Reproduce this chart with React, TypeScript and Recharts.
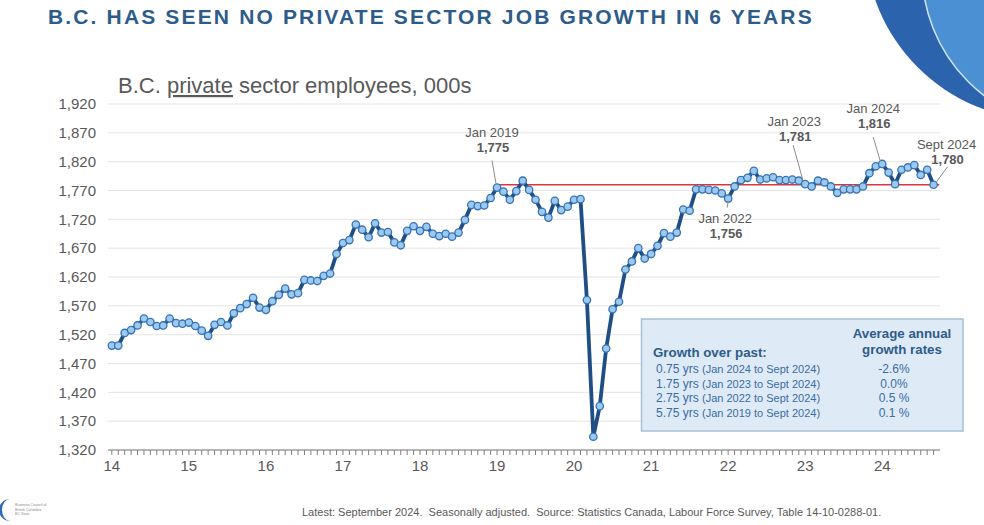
import {
  LineChart,
  Line,
  XAxis,
  YAxis,
  CartesianGrid,
  ReferenceLine,
  ReferenceDot,
} from 'recharts';

// B.C. private sector employees (000s), monthly, Jan 2014 - Sept 2024, seasonally adjusted
const EMPLOYEES = [
  // 2014
  1501, 1501, 1523, 1528, 1536, 1548, 1542, 1535, 1536, 1548, 1540, 1539,
  // 2015
  1541, 1535, 1527, 1518, 1537, 1542, 1536, 1557, 1566, 1573, 1584, 1567,
  // 2016
  1563, 1578, 1589, 1600, 1590, 1592, 1615, 1614, 1613, 1622, 1626, 1660,
  // 2017
  1679, 1684, 1711, 1702, 1689, 1713, 1697, 1698, 1680, 1675, 1700, 1708,
  // 2018
  1700, 1707, 1695, 1691, 1695, 1690, 1697, 1719, 1745, 1743, 1744, 1757,
  // 2019
  1775, 1768, 1754, 1769, 1787, 1771, 1754, 1733, 1723, 1752, 1736, 1742,
  // 2020
  1754, 1755, 1580, 1343, 1396, 1496, 1564, 1577, 1633, 1647, 1670, 1652,
  // 2021
  1660, 1674, 1696, 1690, 1697, 1737, 1735, 1772, 1772, 1771, 1770, 1765,
  // 2022
  1756, 1777, 1788, 1792, 1804, 1789, 1791, 1793, 1788, 1788, 1789, 1787,
  // 2023
  1781, 1777, 1787, 1784, 1777, 1766, 1772, 1772, 1772, 1777, 1800, 1812,
  // 2024
  1816, 1801, 1781, 1806, 1810, 1814, 1797, 1806, 1780,
];

const YEAR_LABELS = ['14', '15', '16', '17', '18', '19', '20', '21', '22', '23', '24'];
const Y_TICKS = [1320, 1370, 1420, 1470, 1520, 1570, 1620, 1670, 1720, 1770, 1820, 1870, 1920];

// flat line from Jan 2019 to the latest month
const NO_GROWTH_LEVEL = 1780;
const NO_GROWTH_FROM = 60;

const CALLOUT_MONTHS = [60, 96, 108, 120, 128];
const CALLOUT_DATES = ['Jan 2019', 'Jan 2022', 'Jan 2023', 'Jan 2024', 'Sept 2024'];

const GROWTH_PERIODS = ['0.75 yrs', '1.75 yrs', '2.75 yrs', '5.75 yrs'];
const GROWTH_RANGES = [
  '(Jan 2024 to Sept 2024)',
  '(Jan 2023 to Sept 2024)',
  '(Jan 2022 to Sept 2024)',
  '(Jan 2019 to Sept 2024)',
];
const GROWTH_RATES = ['-2.6%', '0.0%', '0.5 %', '0.1 %'];

const data = EMPLOYEES.map((v, m) => ({ m, v }));
const monthTicks = EMPLOYEES.map((_, m) => m);

// text/leader placement for each callout, relative to its point
const CALLOUT_LAYOUT = [
  { tx: -5, ty: -55, l1: [-5, -27], l2: [-1, -4] },
  { tx: -3, ty: 20, l1: [0, 3], l2: [-1, 9] },
  { tx: -11, ty: -63, l1: [-12, -39], l2: [-2, -3] },
  { tx: -9, ty: -55, l1: [-9, -27], l2: [-2, -3] },
  { tx: 13, ty: -40, l1: [14, -18], l2: [3, -3] },
];

const FONT = '"Liberation Sans", Arial, sans-serif';
const GREY = '#595959';
const NAVY = '#2E5C8A';

const fmt = (n: number) => n.toLocaleString('en-US');

function Callout(props: any, i: number) {
  const { cx, cy } = props;
  const lay = CALLOUT_LAYOUT[i];
  const value = EMPLOYEES[CALLOUT_MONTHS[i]];
  return (
    <g>
      <line
        x1={cx + lay.l1[0]}
        y1={cy + lay.l1[1]}
        x2={cx + lay.l2[0]}
        y2={cy + lay.l2[1]}
        stroke="#8c8c8c"
        strokeWidth={1}
      />
      <text x={cx + lay.tx} y={cy + lay.ty + 4.5} textAnchor="middle" fontSize={13} fill={GREY} fontFamily={FONT}>
        {CALLOUT_DATES[i]}
      </text>
      <text
        x={cx + lay.tx + 1}
        y={cy + lay.ty + 19.5}
        textAnchor="middle"
        fontSize={13}
        fontWeight="bold"
        fill={GREY}
        fontFamily={FONT}
      >
        {fmt(value)}
      </text>
    </g>
  );
}

export default function App() {
  return (
    <div style={{ position: 'absolute', left: 0, top: 0, width: 984, height: 525, background: '#fff', overflow: 'hidden' }}>
      <LineChart
        width={984}
        height={525}
        data={data}
        margin={{ top: 104, right: 44, bottom: 45, left: 48 }}
        style={{ fontFamily: FONT }}
      >
        <CartesianGrid vertical={false} stroke="#e4e4e4" strokeWidth={1} />
        <XAxis
          dataKey="m"
          type="number"
          height={30}
          domain={[-0.6, 129]}
          ticks={monthTicks}
          interval={0}
          tickFormatter={(m: number) => (m % 12 === 0 ? YEAR_LABELS[m / 12] : '')}
          tick={{ fill: GREY, fontSize: 15 }}
          tickSize={5}
          tickMargin={5}
          stroke="#7f7f7f"
          axisLine={{ stroke: '#7f7f7f' }}
          tickLine={{ stroke: '#7f7f7f' }}
        />
        <YAxis
          width={60}
          domain={[1320, 1920]}
          ticks={Y_TICKS}
          interval={0}
          tickFormatter={fmt}
          tick={{ fill: GREY, fontSize: 15 }}
          axisLine={false}
          tickLine={false}
          tickSize={0}
          tickMargin={12}
        />
        <ReferenceLine
          segment={[
            { x: NO_GROWTH_FROM, y: NO_GROWTH_LEVEL },
            { x: 128.9, y: NO_GROWTH_LEVEL },
          ]}
          stroke="#d9363e"
          strokeWidth={1.4}
        />
        <Line
          dataKey="v"
          type="linear"
          stroke="#1f4e85"
          strokeWidth={3.8}
          dot={{ r: 3.7, fill: '#9ccaef', stroke: '#3673b5', strokeWidth: 1.3 }}
          isAnimationActive={false}
        />
        {CALLOUT_MONTHS.map((m, i) => (
          <ReferenceDot key={m} x={m} y={EMPLOYEES[m]} r={1} shape={(p: any) => Callout(p, i)} />
        ))}
      </LineChart>

      <svg width={984} height={525} style={{ position: 'absolute', left: 0, top: 0, pointerEvents: 'none' }}>
        {/* corner swoosh */}
        <circle cx={1045} cy={-60} r={180} fill="#2c63ad" />
        <circle cx={1080} cy={-30} r={158} fill="#4a90d2" />
        <circle cx={1080} cy={-30} r={158} fill="none" stroke="#cfe6f7" strokeWidth={1.5} />

        <text x={48} y={24} fontSize={21} fontWeight="bold" letterSpacing={2.15} fill={NAVY} fontFamily={FONT}>
          B.C. HAS SEEN NO PRIVATE SECTOR JOB GROWTH IN 6 YEARS
        </text>
        <text x={118} y={93} fontSize={22} fill={GREY} fontFamily={FONT}>
          B.C. <tspan style={{ textDecoration: 'underline' }}>private</tspan> sector employees, 000s
        </text>

        {/* growth summary table */}
        <rect x={641.5} y={319} width={321.5} height={112} fill="#deebf6" stroke="#a7c0d3" strokeWidth={1.5} />
        <text x={902} y={338} textAnchor="middle" fontSize={13.3} fontWeight="bold" fill={NAVY} fontFamily={FONT}>
          Average annual
        </text>
        <text x={902} y={354} textAnchor="middle" fontSize={13.3} fontWeight="bold" fill={NAVY} fontFamily={FONT}>
          growth rates
        </text>
        <text x={653} y={357} fontSize={13.3} fontWeight="bold" fill={NAVY} fontFamily={FONT}>
          Growth over past:
        </text>
        {GROWTH_PERIODS.map((p, i) => (
          <g key={p}>
            <text x={656} y={373 + i * 14.5} fontSize={12} fill="#3a6ca3" fontFamily={FONT}>
              {p}{' '}
              <tspan fontSize={11}>{GROWTH_RANGES[i]}</tspan>
            </text>
            <text x={894} y={373 + i * 14.5} textAnchor="middle" fontSize={12} fill="#3a6ca3" fontFamily={FONT}>
              {GROWTH_RATES[i]}
            </text>
          </g>
        ))}

        {/* small logo, bottom left */}
        <path d="M10 499 A11 11 0 0 0 10 521 A8 11 0 0 1 10 499 Z" fill="#2c6bb5" />
        <text x={15} y={506} fontSize={3.6} fill="#8a8a8a" fontFamily={FONT}>Business Council of</text>
        <text x={15} y={510.5} fontSize={3.6} fill="#8a8a8a" fontFamily={FONT}>British Columbia</text>
        <text x={15} y={515} fontSize={3.6} fill="#8a8a8a" fontFamily={FONT}>BC Stats</text>

        <text x={302} y={516} fontSize={11} fill={GREY} fontFamily={FONT} style={{ whiteSpace: 'pre' }}>
          {'Latest: September 2024.  Seasonally adjusted.  Source: Statistics Canada, Labour Force Survey, Table 14-10-0288-01.'}
        </text>
      </svg>
    </div>
  );
}
